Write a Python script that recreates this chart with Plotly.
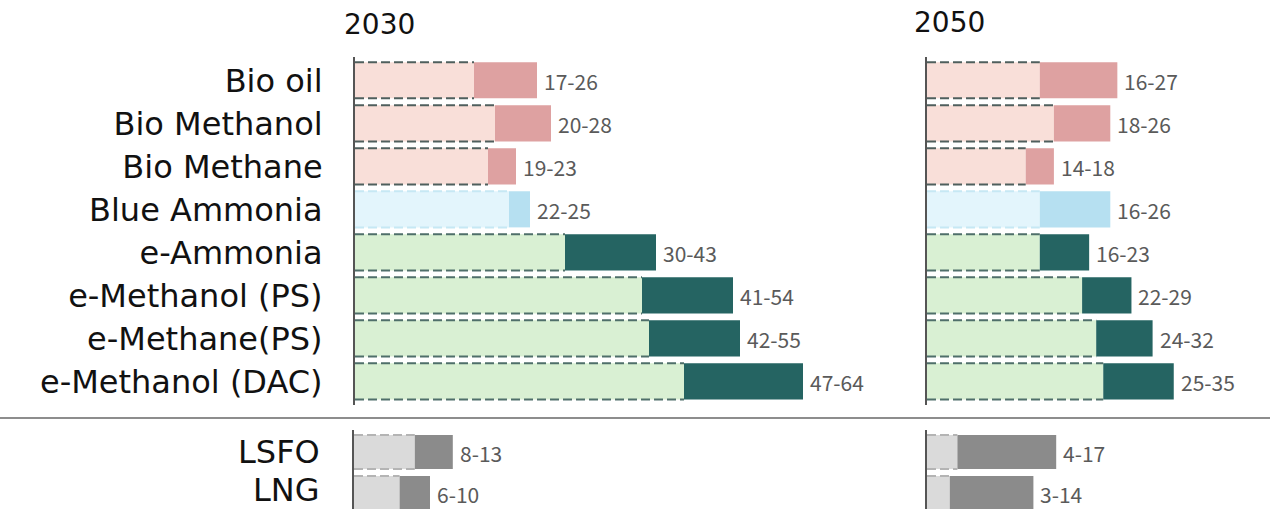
import plotly.graph_objects as go

fuels = ["Bio oil", "Bio Methanol", "Bio Methane", "Blue Ammonia", "e-Ammonia",
         "e-Methanol (PS)", "e-Methane(PS)", "e-Methanol (DAC)"]
fuel_group = ["bio", "bio", "bio", "blue", "e", "e", "e", "e"]
min_2030 = [17, 20, 19, 22, 30, 41, 42, 47]
max_2030 = [26, 28, 23, 25, 43, 54, 55, 64]
min_2050 = [16, 18, 14, 16, 16, 22, 24, 25]
max_2050 = [27, 26, 18, 26, 23, 29, 32, 35]

fossils = ["LSFO", "LNG"]
fossil_min_2030 = [8, 6]
fossil_max_2030 = [13, 10]
fossil_min_2050 = [4, 3]
fossil_max_2050 = [17, 14]

years = ["2030", "2050"]

LIGHT = {"bio": "#f9dfd9", "blue": "#e3f5fc", "e": "#d9f0d3", "fossil": "#dadada"}
DARK = {"bio": "#dea1a1", "blue": "#b6e0f1", "e": "#256462", "fossil": "#8b8b8b"}
DASH = {"bio": "#4f5f5d", "blue": "#c6e8f4", "e": "#4f6f6a", "fossil": "#b4b4b4"}

W, H = 1277, 509
LABEL_FONT = "DejaVu Sans, sans-serif"
VALUE_FONT = "Noto Sans CJK JP, Noto Sans, sans-serif"
LABEL_X = 322 / W

fig = go.Figure()
shapes = []
annotations = []

panels = [
    ("x", "y", fuels, min_2030, max_2030, fuel_group, 0.84),
    ("x2", "y2", fuels, min_2050, max_2050, fuel_group, 0.84),
    ("x3", "y3", fossils, fossil_min_2030, fossil_max_2030, ["fossil"] * 2, 0.83),
    ("x4", "y4", fossils, fossil_min_2050, fossil_max_2050, ["fossil"] * 2, 0.83),
]

for xa, ya, names, mins, maxs, groups, bw in panels:
    pos = list(range(len(names)))
    fig.add_trace(go.Bar(
        y=pos, x=mins, base=0, orientation="h", width=bw,
        marker=dict(color=[LIGHT[g] for g in groups], line=dict(width=0)),
        xaxis=xa, yaxis=ya, showlegend=False, hoverinfo="skip"))
    fig.add_trace(go.Bar(
        y=pos, x=[b - a for a, b in zip(mins, maxs)], base=mins, orientation="h", width=bw,
        marker=dict(color=[DARK[g] for g in groups], line=dict(width=0)),
        xaxis=xa, yaxis=ya, showlegend=False, hoverinfo="skip"))
    for i, (a, b, g) in enumerate(zip(mins, maxs, groups)):
        for edge in (-bw / 2, bw / 2):
            shapes.append(dict(type="line", xref=xa, yref=ya, x0=0, x1=a,
                               y0=i + edge, y1=i + edge,
                               line=dict(color=DASH[g], width=2, dash="9px,4px"),
                               layer="above"))
        annotations.append(dict(xref=xa, yref=ya, x=b, y=i, text=f"{a}-{b}",
                                showarrow=False, xanchor="left", xshift=5, yshift=-1,
                                font=dict(family=VALUE_FONT, size=21, color="#5a5a5a")))

# fossil fuel category labels (kept inside the page)
annotations.append(dict(xref="paper", yref="y3", x=LABEL_X, y=0, text=fossils[0],
                        showarrow=False, xanchor="right", yanchor="middle",
                        font=dict(family=LABEL_FONT, size=32, color="#111")))
annotations.append(dict(xref="paper", yref="paper", x=LABEL_X, y=0, text=fossils[1],
                        showarrow=False, xanchor="right", yanchor="bottom", yshift=-2,
                        font=dict(family=LABEL_FONT, size=32, color="#111")))

# year headers
annotations.append(dict(xref="paper", yref="paper", x=342 / W, y=1 - 25 / H, text=years[0],
                        showarrow=False, xanchor="left", yanchor="middle",
                        font=dict(family=LABEL_FONT, size=28, color="#111")))
annotations.append(dict(xref="paper", yref="paper", x=912 / W, y=1 - 22 / H, text=years[1],
                        showarrow=False, xanchor="left", yanchor="middle",
                        font=dict(family=LABEL_FONT, size=28, color="#111")))

# divider between alternative fuels and fossil fuels
shapes.append(dict(type="line", xref="paper", yref="paper", x0=0, x1=1270 / W,
                   y0=1 - 418 / H, y1=1 - 418 / H,
                   line=dict(color="#8d8d8d", width=2)))

top_dom = [1 - 405 / H, 1 - 57 / H]
bot_dom = [0, 1 - 430 / H]
top_range = [7.55, -0.542]
bot_range = [1.39, -0.537]


def xax(dom, rng):
    return dict(domain=dom, range=rng, visible=False, fixedrange=True)


def yax(dom, rng, anchor, names=None):
    d = dict(domain=dom, range=rng, anchor=anchor, showline=True, linecolor="#555555",
             linewidth=2, showgrid=False, zeroline=False, fixedrange=True)
    if names is not None:
        d.update(tickmode="array", tickvals=list(range(len(names))), ticktext=names,
                 ticks="", ticklabelstandoff=24,
                 tickfont=dict(family=LABEL_FONT, size=32, color="#111"))
    else:
        d.update(showticklabels=False, ticks="")
    return d


fig.update_layout(
    width=W, height=H, margin=dict(l=0, r=0, t=0, b=0),
    paper_bgcolor="white", plot_bgcolor="white", barmode="overlay",
    xaxis=xax([355 / W, 900 / W], [0, 545 / 7.0]),
    xaxis2=xax([927 / W, 1.0], [0, 350 / 7.05]),
    xaxis3=xax([354 / W, 900 / W], [0, 546 / 7.6]),
    xaxis4=xax([927 / W, 1.0], [0, 350 / 7.6]),
    yaxis=yax(top_dom, top_range, "x", fuels),
    yaxis2=yax(top_dom, top_range, "x2"),
    yaxis3=yax(bot_dom, bot_range, "x3"),
    yaxis4=yax(bot_dom, bot_range, "x4"),
    shapes=shapes, annotations=annotations,
)

fig.write_html("out.html")
